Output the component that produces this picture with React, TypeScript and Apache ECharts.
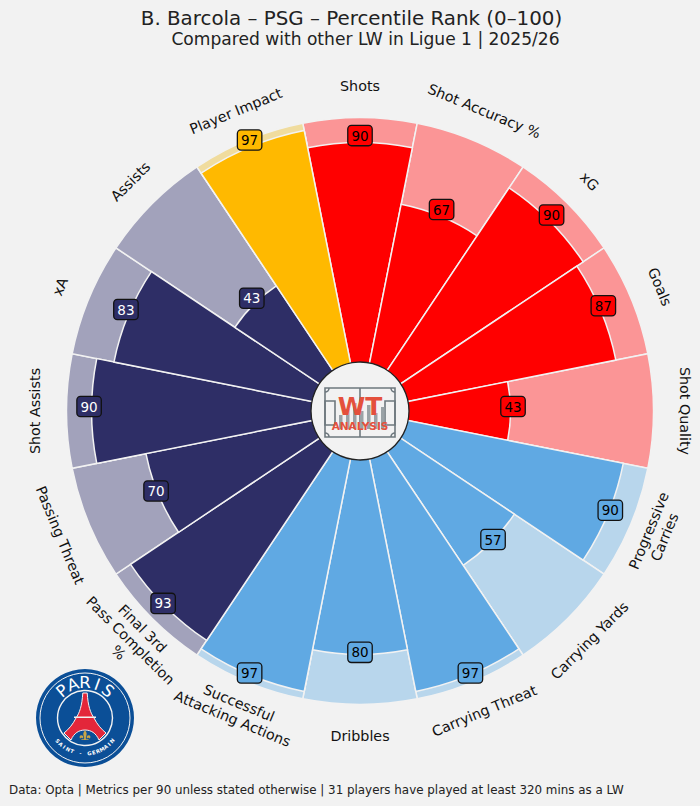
import React, { useEffect, useRef } from "react";
import * as echarts from "echarts";

const FONT = "'DejaVu Sans', sans-serif";
const BG = "#f2f2f2";

const titleText = "B. Barcola – PSG – Percentile Rank (0–100)";
const subtitleText = "Compared with other LW in Ligue 1 | 2025/26";
const footerText = "Data: Opta | Metrics per 90 unless stated otherwise | 31 players have played at least 320 mins as a LW";

const metrics = [
  "Shots", "Shot Accuracy %", "xG", "Goals", "Shot Quality",
  "Progressive\nCarries", "Carrying Yards", "Carrying Threat", "Dribbles", "Successful\nAttacking Actions",
  "Final 3rd\nPass Completion\n%", "Passing Threat", "Shot Assists", "xA", "Assists", "Player Impact",
];
const percentiles = [90, 67, 90, 87, 43, 90, 57, 97, 80, 97, 93, 70, 90, 83, 43, 97];
const labelRotations = [0, -22.5, -45, -67.5, -90, 67.5, 45, 22.5, 0, -22.5, -45, -67.5, 90, 67.5, 45, 22.5];
const labelRadii = [112.4, 112.4, 112.4, 112.4, 112.4, 111, 112.4, 112.4, 112.4, 112.4, 112.4, 112.4, 112.4, 112.4, 112.4, 112.4];
const strongColors = [
  "#ff0000", "#ff0000", "#ff0000", "#ff0000", "#ff0000",
  "#60a9e3", "#60a9e3", "#60a9e3", "#60a9e3", "#60a9e3",
  "#2e2e66", "#2e2e66", "#2e2e66", "#2e2e66", "#2e2e66",
  "#ffb900",
];
const paleColors = [
  "#fb9596", "#fb9596", "#fb9596", "#fb9596", "#fb9596",
  "#b8d6ec", "#b8d6ec", "#b8d6ec", "#b8d6ec", "#b8d6ec",
  "#a2a2bb", "#a2a2bb", "#a2a2bb", "#a2a2bb", "#a2a2bb",
  "#f0dc9e",
];
const valueTextColors = [
  "#000", "#000", "#000", "#000", "#000",
  "#000", "#000", "#000", "#000", "#000",
  "#fff", "#fff", "#fff", "#fff", "#fff",
  "#000",
];
const FULL = 100;
const VALUE_PUSH = 1;

const TOWER = "M-2.2 -25 L2.2 -25 C3 -12 5.5 -5 9 0 C12 6 16 11 21 15 L14 22 C11 15 6 12 0 12 C-6 12 -11 15 -14 22 L-21 15 C-16 11 -12 6 -9 0 C-5.5 -5 -3 -12 -2.2 -25 Z";
const FLEUR = "M0 -6 C2 -4 2.5 -2 1 1 L1 4 L-1 4 L-1 1 C-2.5 -2 -2 -4 0 -6 Z M-2 0 C-5 -2 -7 0 -5.5 3 C-4.5 1.5 -3 2 -2 3 Z M2 0 C5 -2 7 0 5.5 3 C4.5 1.5 3 2 2 3 Z M-4 3.5 L4 3.5 L4 4.5 L-4 4.5 Z";

function arcText(text: string, r: number, startDeg: number, endDeg: number, top: boolean, font: string) {
  const chars = Array.from(text);
  return chars.map((c, i) => {
    const t = ((startDeg + (endDeg - startDeg) * (i / (chars.length - 1))) * Math.PI) / 180;
    return {
      type: "text",
      x: r * Math.sin(t),
      y: top ? -r * Math.cos(t) : r * Math.cos(t),
      rotation: top ? -t : t,
      z: 11,
      style: { text: c, fill: "#fff", font, align: "center", verticalAlign: "middle" },
    };
  });
}

export default function App() {
  const ref = useRef<HTMLDivElement>(null);
  useEffect(() => {
    if (!ref.current) return;
    echarts.graphic.registerShape("psgTowerShape", (echarts.graphic as any).extendPath(TOWER, {}));
    echarts.graphic.registerShape("psgFleurShape", (echarts.graphic as any).extendPath(FLEUR, {}));
    const chart = echarts.init(ref.current, undefined, { renderer: "svg" });
    const GREY = "#6e787e";
    const OR = "#e4503c";
    const pitchLine = { stroke: GREY, lineWidth: 1.6, fill: "none" };
    const bars = [14, 20, 26, 18, 24, 16, 22];
    const logoParts: any[] = [
      { type: "rect", shape: { x: -35, y: -24, width: 70, height: 49 }, style: pitchLine },
      { type: "line", shape: { x1: 0, y1: -24, x2: 0, y2: 25 }, style: pitchLine },
      { type: "rect", shape: { x: -35, y: -11, width: 10, height: 24 }, style: pitchLine },
      { type: "rect", shape: { x: 25, y: -11, width: 10, height: 24 }, style: pitchLine },
      { type: "arc", shape: { cx: -35, cy: -24, r: 4, startAngle: 0, endAngle: Math.PI / 2 }, style: pitchLine },
      { type: "arc", shape: { cx: 35, cy: -24, r: 4, startAngle: Math.PI / 2, endAngle: Math.PI }, style: pitchLine },
      { type: "arc", shape: { cx: -35, cy: 25, r: 4, startAngle: -Math.PI / 2, endAngle: 0 }, style: pitchLine },
      { type: "arc", shape: { cx: 35, cy: 25, r: 4, startAngle: Math.PI, endAngle: Math.PI * 1.5 }, style: pitchLine },
      ...bars.map((h, i) => ({ type: "rect", shape: { x: -21 + i * 7, y: 17 - h, width: 3.5, height: h }, style: { fill: "#9aa2a6" } })),
      { type: "text", x: 0, y: -6, style: { text: "WT", fill: OR, font: `bold 25px ${FONT}`, align: "center", verticalAlign: "middle" } },
      { type: "text", x: 0, y: 13.5, style: { text: "ANALYSIS", fill: OR, font: `bold 10.5px ${FONT}`, align: "center", verticalAlign: "middle" } },
    ].map((p) => ({ ...p, z: 11 }));
    const crestParts: any[] = [
      { type: "circle", shape: { cx: 0, cy: 0, r: 49 }, style: { fill: "#0b4f97" } },
      { type: "circle", shape: { cx: 0, cy: 0, r: 45 }, style: { fill: "none", stroke: "#f2f2f2", lineWidth: 1 } },
      { type: "circle", shape: { cx: 0, cy: 0, r: 27.5 }, style: { fill: "#0b4f97", stroke: "#f2f2f2", lineWidth: 1.4 } },
      { type: "psgTowerShape", style: { fill: "#e3263a", stroke: "#f2f2f2", lineWidth: 1 } },
      { type: "rect", shape: { x: -11, y: -1.5, width: 22, height: 1.5 }, style: { fill: "#f2f2f2" } },
      { type: "psgFleurShape", x: 0, y: 18, scaleX: 0.9, scaleY: 0.9, style: { fill: "#c9a648" } },
    ].map((p) => ({ ...p, z: 11 }));
    chart.setOption({
      animation: false,
      backgroundColor: BG,
      textStyle: { fontFamily: FONT },
      title: [
        { text: titleText, left: 346.5, top: 3, textAlign: "center", textStyle: { fontFamily: FONT, fontSize: 19.85, fontWeight: "normal", color: "#222" } },
        { text: subtitleText, left: 360.5, top: 25.5, textAlign: "center", textStyle: { fontFamily: FONT, fontSize: 17.1, fontWeight: "normal", color: "#222" } },
        { text: footerText, left: 4, top: 779, textStyle: { fontFamily: FONT, fontSize: 11.9, fontWeight: "normal", color: "#222" } },
      ],
      polar: { center: [360, 411], radius: 293.5 },
      angleAxis: { type: "category", data: metrics, startAngle: 101.25, clockwise: true, boundaryGap: true, show: false },
      radiusAxis: { type: "value", min: -17, max: FULL, show: false },
      series: [
        {
          type: "bar", coordinateSystem: "polar", barGap: "-100%", barCategoryGap: 0, silent: true, z: 1,
          data: metrics.map((_, i) => ({ value: FULL, itemStyle: { color: paleColors[i], borderColor: BG, borderWidth: 1.5 } })),
        },
        {
          type: "bar", coordinateSystem: "polar", barGap: "-100%", barCategoryGap: 0, silent: true, z: 2,
          data: percentiles.map((v, i) => ({ value: v, itemStyle: { color: strongColors[i], borderColor: BG, borderWidth: 1.5 } })),
        },
        {
          type: "scatter", coordinateSystem: "polar", symbolSize: 1, z: 5, silent: true, clip: false,
          itemStyle: { color: "transparent", opacity: 1 },
          data: percentiles.map((v, i) => ({
            value: [v + VALUE_PUSH, i],
            label: {
              show: true, position: "inside", offset: [0, -4.5], formatter: String(v), opacity: 1,
              fontFamily: FONT, fontSize: 13.5, color: valueTextColors[i],
              backgroundColor: strongColors[i], borderColor: "#111", borderWidth: 1.3, borderRadius: 3, padding: [3, 3, 2, 3],
            },
          })),
        },
        {
          type: "scatter", coordinateSystem: "polar", symbolSize: 1, z: 5, silent: true, clip: false,
          itemStyle: { color: "transparent", opacity: 1 },
          data: metrics.map((m, i) => ({
            value: [labelRadii[i], i],
            label: {
              show: true, position: "inside", formatter: m, rotate: labelRotations[i], opacity: 1,
              fontFamily: FONT, fontSize: 14.3, lineHeight: 17, color: "#111", align: "center", verticalAlign: "middle",
            },
          })),
        },
      ],
      graphic: [
        { type: "circle", shape: { cx: 360, cy: 411, r: 49 }, style: { fill: BG, stroke: "#222", lineWidth: 1.3 }, z: 10 },
        { type: "group", x: 360, y: 412, children: logoParts },
        { type: "group", x: 85, y: 718, children: [
          ...crestParts,
          ...arcText("PARIS", 35.5, -40, 40, true, `16.5px ${FONT}`),
          ...arcText("SAINT - GERMAIN", 35.5, -50, 50, false, `bold 5.2px ${FONT}`),
        ] },
      ],
    });
    return () => chart.dispose();
  }, []);
  return <div ref={ref} style={{ position: "absolute", left: 0, top: 0, width: 700, height: 806 }} />;
}
